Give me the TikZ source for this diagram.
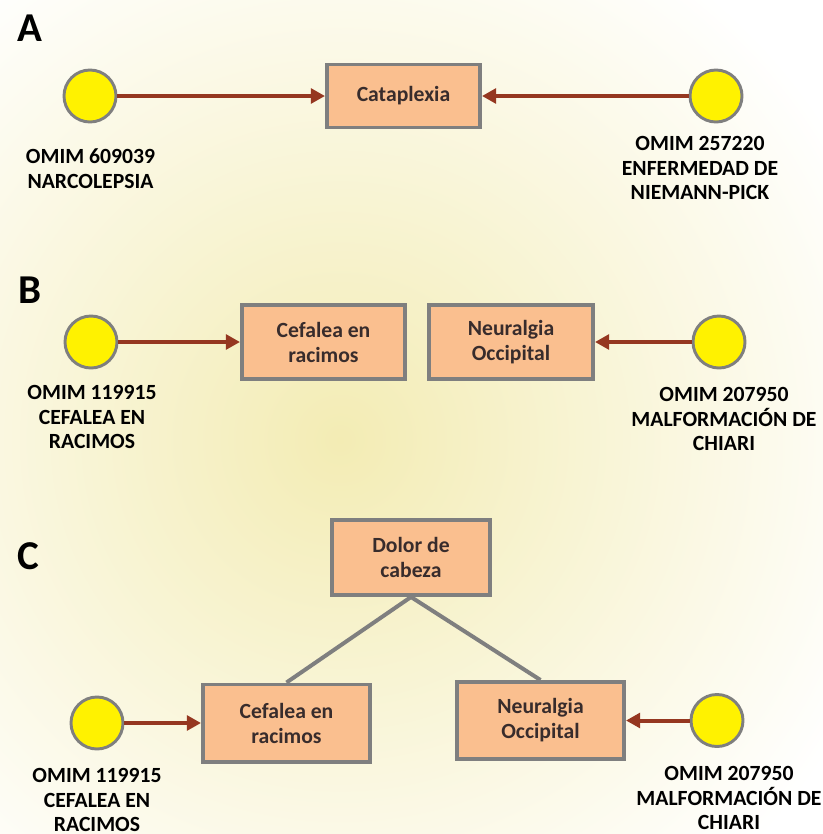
\documentclass[tikz,border=0pt]{standalone}
\usepackage{fontspec}
\setmainfont{Carlito}
\usetikzlibrary{arrows.meta}
\definecolor{peach}{RGB}{250,191,143}
\definecolor{boxline}{RGB}{127,127,127}
\definecolor{rust}{RGB}{149,55,32}
\definecolor{boxtext}{RGB}{56,44,44}
\definecolor{glow}{RGB}{243,236,180}
\begin{document}
\begin{tikzpicture}[x=.03cm,y=-.03cm,every node/.style={font=\fontsize{18.5}{21.3}\selectfont\bfseries,align=center},
  omim/.style={circle,draw=boxline,line width=2.5pt,fill=yellow,minimum size=1.56cm,inner sep=0pt},
  pheno/.style={draw=boxline,line width=3.4pt,fill=peach,text=boxtext,inner sep=0pt},
  tag/.style={font=\fontsize{35}{40}\selectfont\bfseries},
  link/.style={draw=rust,line width=3.4pt,-{Triangle[length=12pt,width=12.5pt]}},
  isa/.style={draw=boxline,line width=3.4pt}]
\useasboundingbox (0,0) rectangle (823,834);
\begin{scope}\clip (0,0) rectangle (823,834);
\shade[inner color=glow,outer color=white] (340,440) circle (580);
\end{scope}
\node[tag] (ta) at (30,28) {A};
\node[omim] (a1) at (90,96) {};\node[pheno,minimum width=4.59cm,minimum height=1.89cm] (cata) at (403.5,96) {Cataplexia};\node[omim] (a2) at (716,96) {};
\node (la1) at (90.5,168.5) {OMIM 609039\\NARCOLEPSIA};\node (la2) at (700,168) {OMIM 257220\\ENFERMEDAD DE\\NIEMANN-PICK};
\draw[link] (a1)--(cata);\draw[link] (a2)--(cata);
\node[tag] (tb) at (30,290) {B};
\node[omim] (b1) at (91,342) {};\node[pheno,minimum width=4.89cm,minimum height=2.22cm] (cefb) at (323.5,342) {Cefalea en\\racimos};
\node[pheno,minimum width=4.92cm,minimum height=2.22cm] (neub) at (511,342) {Neuralgia\\Occipital};\node[omim] (b2) at (719,342) {};
\node (lb1) at (92,417) {OMIM 119915\\CEFALEA EN\\RACIMOS};\node (lb2) at (724,419) {OMIM 207950\\MALFORMACIÓN DE\\CHIARI};
\draw[link] (b1)--(cefb);\draw[link] (b2)--(neub);
\node[tag] (tc) at (28,556) {C};
\node[pheno,minimum width=4.74cm,minimum height=2.25cm] (dolor) at (411,557.5) {Dolor de\\cabeza};
\node[pheno,minimum width=5.01cm,minimum height=2.31cm] (cefc) at (286.5,723) {Cefalea en\\racimos};\node[pheno,minimum width=5.01cm,minimum height=2.31cm] (neuc) at (540.5,720.5) {Neuralgia\\Occipital};
\node[omim] (c1) at (97,723) {};\node[omim] (c2) at (717,720.5) {};
\node (lc1) at (97,800) {OMIM 119915\\CEFALEA EN\\RACIMOS};\node (lc2) at (729,798) {OMIM 207950\\MALFORMACIÓN DE\\CHIARI};
\draw[link] (c1)--(cefc);\draw[link] (c2)--(neuc);
\draw[isa] (dolor.south)--(cefc.north) (dolor.south)--(neuc.north);
\end{tikzpicture}
\end{document}
